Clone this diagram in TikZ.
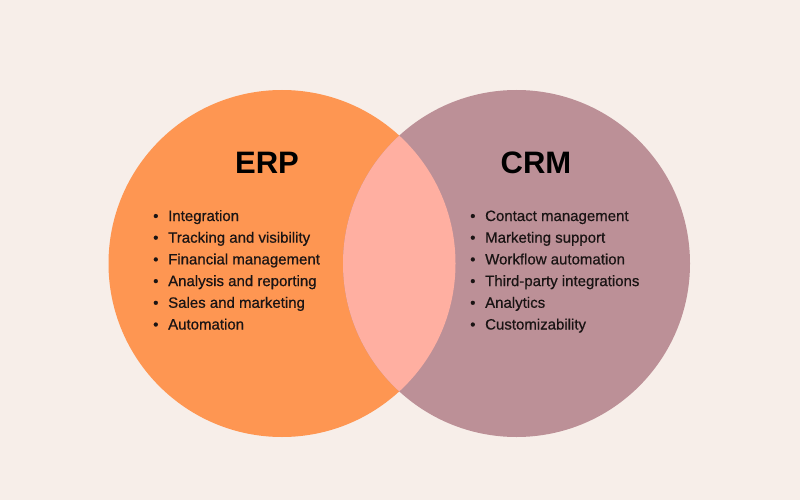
\documentclass[tikz,border=0pt]{standalone}
\usepackage{xcolor}
\usepackage{fontspec}
\setmainfont{Liberation Sans}
\newfontfamily\itemfont{Liberation Sans}[FakeBold=0.6]
\usepackage{tikz}
\usetikzlibrary{positioning}
\definecolor{bgcream}{HTML}{F7EEE9}
\definecolor{erporange}{HTML}{FE9652}
\definecolor{crmmauve}{HTML}{BC9097}
\definecolor{overlappink}{HTML}{FFAFA1}
\definecolor{inkdark}{HTML}{1A1414}

\begin{document}
\begin{tikzpicture}[x=1pt, y=-1pt,
  title/.style={font=\bfseries\fontsize{31}{36}\selectfont, anchor=base, inner sep=0pt},
  item/.style={font=\itemfont\fontsize{15}{18}\selectfont, text=inkdark, anchor=base west, inner sep=0pt}]
  \fill[bgcream] (0,0) rectangle (800,500);
  % the two sets
  \coordinate (erpc) at (282,263.5);
  \coordinate (crmc) at (516.5,263.5);
  \fill[erporange] (erpc) circle (173.5pt);
  \fill[crmmauve] (crmc) circle (173.5pt);
  \begin{scope}
    \clip (erpc) circle (173.5pt);
    \fill[overlappink] (crmc) circle (173.5pt);
  \end{scope}
  % titles
  \node[title] (erp) at (267,173) {ERP};
  \node[title] (crm) at (536,173) {CRM};
  % feature lists
  \foreach \txt [count=\i] in {Integration, Tracking and visibility,
      Financial management, Analysis and reporting, Sales and marketing, Automation}
    \node[item] (erp\i) at (153,221+21.7*\i-21.7) {\makebox[15pt][l]{\textbullet}\txt};
  \foreach \txt [count=\i] in {Contact management, Marketing support,
      Workflow automation, Third-party integrations, Analytics, Customizability}
    \node[item] (crm\i) at (470,221+21.7*\i-21.7) {\makebox[15pt][l]{\textbullet}\txt};
\end{tikzpicture}
\end{document}
